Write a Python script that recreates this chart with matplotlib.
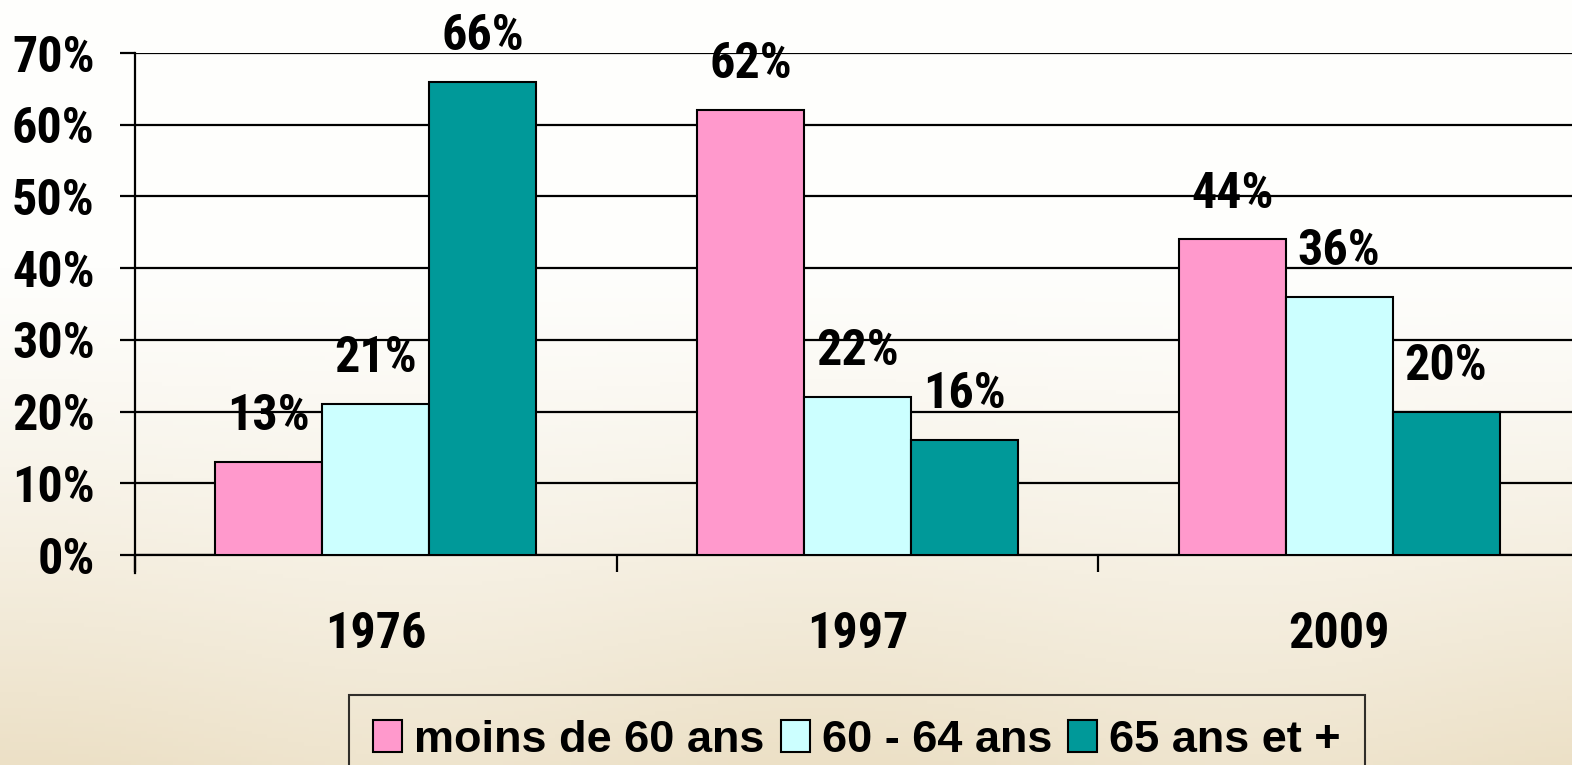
import matplotlib
matplotlib.use("Agg")
import matplotlib.pyplot as plt
import numpy as np
from matplotlib.patches import Patch

years = ["1976", "1997", "2009"]
series_names = ["moins de 60 ans", "60 - 64 ans", "65 ans et +"]
moins_60 = [13, 62, 44]
ans_60_64 = [21, 22, 36]
ans_65_plus = [66, 16, 20]
colors = ["#FF99CC", "#CCFFFF", "#009999"]
yticks = [0, 10, 20, 30, 40, 50, 60, 70]

plt.rcParams["font.family"] = ["Roboto Condensed", "PT Sans Narrow", "Liberation Sans", "DejaVu Sans"]
plt.rcParams["font.weight"] = "bold"
FS = 36
LEG_FS = 32.5

W, H = 1572, 765
fig = plt.figure(figsize=(W / 100, H / 100), dpi=100)

# background gradient
bg = fig.add_axes([0, 0, 1, 1], zorder=-10)
yy, xx = np.mgrid[0:1:200j, 0:1:300j]
t = np.clip((yy - 0.35) / 0.65, 0, 1) ** 1.2
t = t * (0.85 + 0.15 * np.cos(xx * 6.0) ** 2)
top = np.array([254, 254, 252]) / 255
bot = np.array([236, 224, 198]) / 255
img = top[None, None, :] * (1 - t[..., None]) + bot[None, None, :] * t[..., None]
bg.imshow(img, aspect="auto", extent=[0, 1, 0, 1], origin="upper")
bg.axis("off")

left = 135 / W
bottom = (H - 555) / H
ax = fig.add_axes([left, bottom, (1580 - 135) / W, (555 - 53) / H])
ax.patch.set_alpha(0)

series = [moins_60, ans_60_64, ans_65_plus]
x = np.arange(len(years))
bw = 0.222
for i, (vals, c) in enumerate(zip(series, colors)):
    pos = x + (i - 1) * bw
    ax.bar(pos, vals, width=bw, color=c, edgecolor="black", linewidth=1.5, zorder=3)
    for px, v in zip(pos, vals):
        ax.annotate(f"{v}%", (px, v), xytext=(0, 23), textcoords="offset points",
                    ha="center", va="baseline", fontsize=FS, fontweight="bold", zorder=4)

ax.set_xlim(-0.5, 2.5)
ax.set_ylim(0, 70)
ax.set_yticks(yticks)
ax.set_yticklabels([f"{v}%" for v in yticks])
ax.yaxis.grid(True, color="black", linewidth=1.6, zorder=0)
ax.set_axisbelow(True)
for s in ["top", "right"]:
    ax.spines[s].set_visible(False)
ax.spines["left"].set_linewidth(1.6)
ax.spines["bottom"].set_linewidth(1.6)
ax.spines["left"].set_bounds(-2.5, 70)
ax.set_xticks(x)
ax.set_xticklabels(years)
ax.set_xticks([-0.5, 0.5, 1.5, 2.5], minor=True)
ax.tick_params(axis="x", which="major", length=0, pad=40, labelsize=FS)
ax.tick_params(axis="x", which="minor", length=12, width=1.6, direction="out")
ax.tick_params(axis="y", length=11, width=1.6, direction="out", pad=18, labelsize=FS)
for lab in ax.get_xticklabels() + ax.get_yticklabels():
    lab.set_fontweight("bold")

handles = [Patch(facecolor=c, edgecolor="black", linewidth=1.5) for c in colors]
leg = fig.legend(handles, series_names, loc="upper center",
                 bbox_to_anchor=(857 / W, (H - 695) / H), ncol=3, frameon=True,
                 handlelength=0.64, handleheight=0.69, handletextpad=0.27,
                 columnspacing=0.35, borderpad=0.55, fancybox=False, borderaxespad=0,
                 prop={"family": ["Liberation Sans", "DejaVu Sans"], "weight": "bold", "size": LEG_FS})
leg.get_frame().set_edgecolor("black")
leg.get_frame().set_linewidth(1.5)
leg.get_frame().set_facecolor("none")

fig.savefig("out.png", dpi=100)
